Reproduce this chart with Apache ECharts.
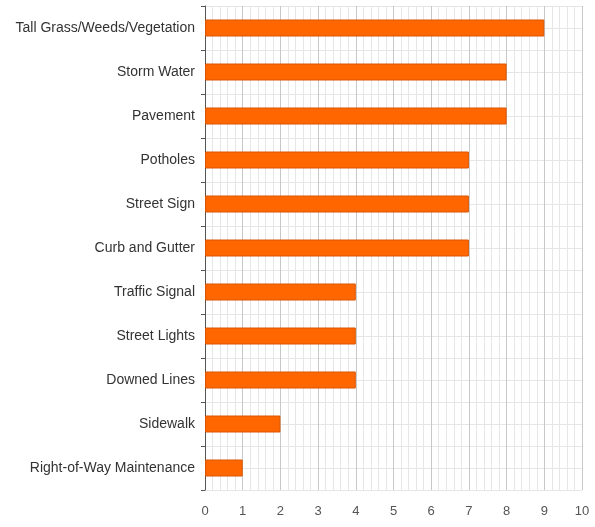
<!DOCTYPE html>
<html>
<head>
<meta charset="utf-8">
<script src="https://cdn.jsdelivr.net/npm/echarts@6/dist/echarts.min.js"></script>
<style>
  html, body { margin: 0; padding: 0; background: #fff; }
  #chart { width: 595px; height: 527px; }
</style>
</head>
<body>
<div id="chart"></div>
<script>
// Service request categories and their counts
const categories = [
  'Tall Grass/Weeds/Vegetation',
  'Storm Water',
  'Pavement',
  'Potholes',
  'Street Sign',
  'Curb and Gutter',
  'Traffic Signal',
  'Street Lights',
  'Downed Lines',
  'Sidewalk',
  'Right-of-Way Maintenance'
];
const counts = [9, 8, 8, 7, 7, 7, 4, 4, 4, 2, 1];
const xTicks = [0, 1, 2, 3, 4, 5, 6, 7, 8, 9, 10];

const chart = echarts.init(document.getElementById('chart'), null, { renderer: 'canvas' });

chart.setOption({
  animation: false,
  backgroundColor: '#ffffff',
  grid: { left: 205, right: 13, top: 6, bottom: 37, containLabel: false },
  xAxis: {
    type: 'value',
    min: xTicks[0],
    max: xTicks[xTicks.length - 1],
    interval: 1,
    axisLine: { show: false },
    axisTick: { show: false },
    axisLabel: {
      color: '#555',
      fontFamily: 'Liberation Sans, Arial, sans-serif',
      fontSize: 13,
      margin: 15
    },
    splitLine: { show: true, lineStyle: { color: '#c8c8c8', width: 1 } },
    minorTick: { show: false, splitNumber: 5 },
    minorSplitLine: { show: true, lineStyle: { color: '#e6e6e6', width: 1 } }
  },
  yAxis: [
    {
      type: 'category',
      data: categories,
      inverse: true,
      axisLine: { show: true, lineStyle: { color: '#555', width: 1 } },
      axisTick: { show: true, inside: false, length: 4, lineStyle: { color: '#555' } },
      axisLabel: {
        color: '#333',
        fontFamily: 'Liberation Sans, Arial, sans-serif',
        fontSize: 14,
        margin: 10,
        padding: [3, 0, 0, 0]
      },
      splitLine: { show: false }
    },
    {
      // half-category horizontal grid lines
      type: 'value',
      min: 0,
      max: categories.length * 2,
      interval: 1,
      position: 'left',
      axisLine: { show: false },
      axisTick: { show: false },
      axisLabel: { show: false },
      splitLine: { show: true, lineStyle: { color: '#e6e6e6', width: 1 } }
    }
  ],
  series: [{
    type: 'bar',
    yAxisIndex: 0,
    data: counts,
    barWidth: 17,
    itemStyle: {
      color: '#ff6600',
      borderColor: '#d95500',
      borderWidth: 1
    },
    z: 3
  }]
});
</script>
</body>
</html>
